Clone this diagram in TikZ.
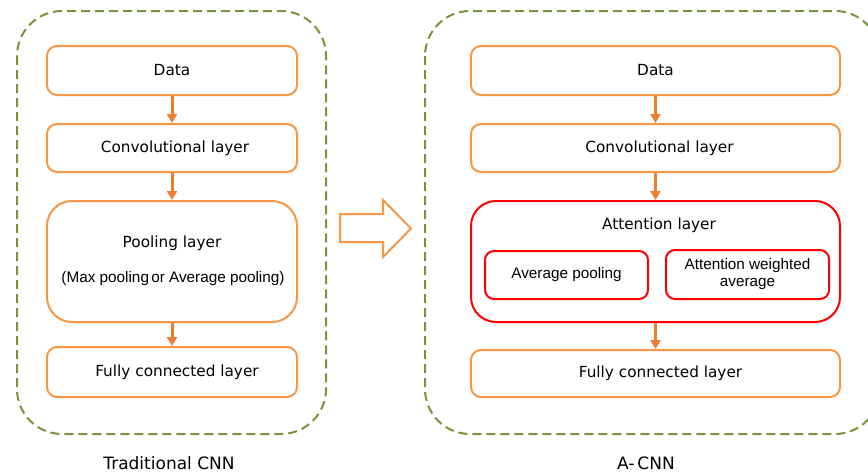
\documentclass[tikz,border=0pt]{standalone}
\usepackage{fontspec}
\setmainfont{DejaVu Sans}
\newfontfamily\arialf{Liberation Sans}
\usetikzlibrary{arrows.meta}
\definecolor{boxor}{HTML}{F79646}
\definecolor{arror}{HTML}{ED7D31}
\definecolor{grn}{HTML}{77933C}
\definecolor{rd}{HTML}{FF0000}
\tikzset{
  cont/.style={draw=grn, line width=2pt, dash pattern=on 9pt off 5pt, rounded corners=45pt},
  obox/.style={draw=boxor, line width=2pt, rounded corners=10pt, rectangle, inner sep=0pt, font=\fontsize{15.3}{18}\selectfont},
  rbox/.style={draw=rd, line width=2pt, rounded corners=9pt, rectangle, inner sep=0pt, align=center, font=\arialf\fontsize{15.3}{18}\selectfont},
  bigbox/.style={rounded corners=25pt},
  lbl/.style={inner sep=0pt, font=\fontsize{15.3}{18}\selectfont},
  albl/.style={inner sep=0pt, font=\arialf\fontsize{15.3}{18}\selectfont},
  captxt/.style={inner sep=0pt, font=\fontsize{17}{20}\selectfont},
  arr/.style={draw=arror, line width=3pt, -{Triangle[width=10pt,length=9pt]}},
}
\begin{document}
\begin{tikzpicture}[x=1pt,y=-1pt]
\useasboundingbox (0,0) rectangle (868,475);
% containers
\draw[cont] (17,11) rectangle (326,434);
\draw[cont] (425,11) rectangle (880,434);
% left column
\node[obox, minimum width=250pt, minimum height=49pt] (d1) at (172,70.5) {Data};
\node[obox, minimum width=250pt, minimum height=48pt] (c1) at (172,148) {\hspace{6pt}Convolutional layer};
\node[obox, bigbox, minimum width=250pt, minimum height=121pt] (p1) at (172,261.5) {};
\node[lbl] (p1t) at (172,243) {Pooling layer};
\node[albl] (p1s) at (173,279) {(Max pooling\hspace{-2pt} or Average pooling)};
\node[obox, minimum width=250pt, minimum height=50pt] (f1) at (172,372) {\hspace{10pt}Fully connected layer};
\draw[arr] (d1.south) -- (c1.north);
\draw[arr] (c1.south) -- (p1.north);
\draw[arr] (p1.south) -- (f1.north);
\node[captxt] (t1) at (169,463) {Traditional CNN};
% big hollow arrow
\draw[draw=boxor, line width=2pt, line join=miter] (340,214) -- (383,214) -- (383,200) -- (411,228.5) -- (383,257) -- (383,242) -- (340,242) -- cycle;
% right column
\node[obox, minimum width=369pt, minimum height=49pt] (d2) at (655.5,70.5) {Data};
\node[obox, minimum width=369pt, minimum height=48pt] (c2) at (655.5,148) {\hspace{8pt}Convolutional layer};
\node[rbox, bigbox, minimum width=369pt, minimum height=121pt] (a2) at (655.5,261.5) {};
\node[lbl] (a2t) at (659,225) {Attention layer};
\node[rbox, minimum width=163pt, minimum height=48pt] (ap) at (566.5,275) {Average pooling};
\node[rbox, minimum width=163pt, minimum height=49pt] (aw) at (747.5,274.5) {Attention weighted\\[-1pt]average};
\node[obox, minimum width=369pt, minimum height=47pt] (f2) at (655.5,373.5) {\hspace{10pt}Fully connected layer};
\draw[arr] (d2.south) -- (c2.north);
\draw[arr] (c2.south) -- (a2.north);
\draw[arr] (a2.south) -- (f2.north);
\node[captxt] (t2) at (646,463) {A-\,CNN};
\end{tikzpicture}
\end{document}
